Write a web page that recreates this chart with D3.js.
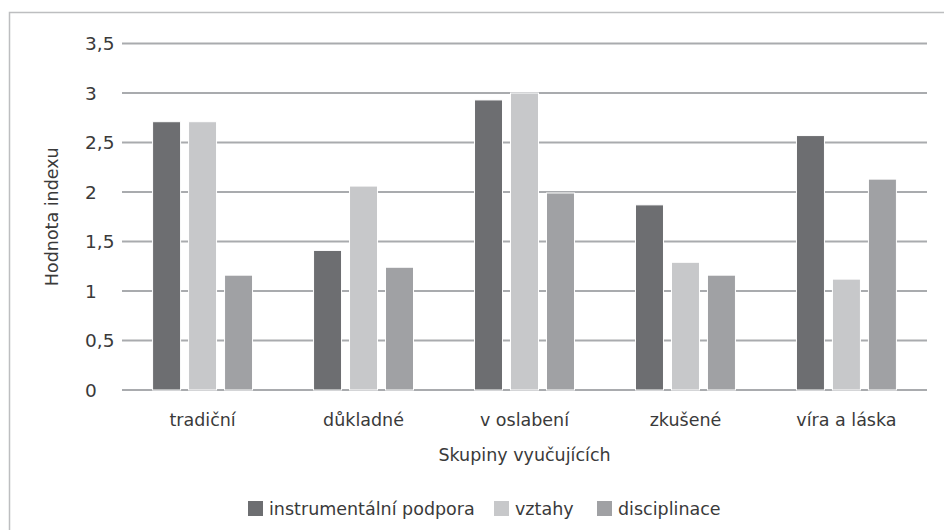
<!DOCTYPE html>
<html><head><meta charset="utf-8">
<script src="https://cdn.jsdelivr.net/npm/d3@7"></script>
<style>body{margin:0;background:#fff}svg{display:block}text{font-family:"DejaVu Sans",sans-serif;fill:#3a3a3a}</style>
</head><body><svg id="c" width="944" height="530"></svg>
<script>
const categories = ["tradiční","důkladné","v oslabení","zkušené","víra a láska"];
const seriesNames = ["instrumentální podpora","vztahy","disciplinace"];
const instrumentalni = [2.71,1.41,2.93,1.87,2.57];
const vztahy = [2.71,2.06,3.0,1.29,1.12];
const disciplinace = [1.16,1.24,1.99,1.16,2.13];
const yTicks = [0,0.5,1,1.5,2,2.5,3,3.5];
const colors = ["#6d6e71","#c7c8ca","#a0a1a4"];
const series = [instrumentalni, vztahy, disciplinace];

const svg = d3.select("#c");
const L=122,R=927,T=43.5,B=390;
const FS = 17.5;
svg.append("rect").attr("x",9.5).attr("y",12.5).attr("width",960).attr("height",560).attr("fill","none").attr("stroke","#bdbec0").attr("stroke-width",1.5);

const y = d3.scaleLinear().domain([0,3.5]).range([B,T]);
const x0 = d3.scaleBand().domain(categories).range([L,R]).paddingInner(0.379).paddingOuter(0.19);
const x1 = d3.scaleBand().domain(d3.range(3)).range([0,x0.bandwidth()]).paddingInner(0.222);

const fmt = v => String(v).replace(".",",");
const grid = svg.append("g");
yTicks.forEach(t=>{
  grid.append("line").attr("x1",L).attr("x2",R).attr("y1",y(t)).attr("y2",y(t)).attr("stroke","#a9abae").attr("stroke-width",2);
  svg.append("text").attr("x",85).attr("y",y(t)).attr("dy","0.36em").attr("font-size",FS+1).text(fmt(t));
});

const g = svg.append("g");
categories.forEach((c,i)=>{
  series.forEach((s,j)=>{
    g.append("rect").attr("x",x0(c)+x1(j)).attr("y",y(s[i])).attr("width",x1.bandwidth()).attr("height",y(0)-y(s[i]))
     .attr("fill",colors[j]).attr("stroke","#fff").attr("stroke-width",1);
  });
  svg.append("text").attr("x",x0(c)+x0.bandwidth()/2).attr("y",420).attr("dy","0.36em").attr("text-anchor","middle").attr("font-size",FS).text(c);
});

svg.append("text").attr("x",(L+R)/2).attr("y",455).attr("dy","0.36em").attr("text-anchor","middle").attr("font-size",FS).text("Skupiny vyučujících");
svg.append("text").attr("transform",`translate(52,${(T+B)/2}) rotate(-90)`).attr("dy","0.36em").attr("text-anchor","middle").attr("font-size",FS).text("Hodnota indexu");

const legX = [248,494,597];
seriesNames.forEach((n,j)=>{
  svg.append("rect").attr("x",legX[j]).attr("y",501).attr("width",15).attr("height",15).attr("fill",colors[j]);
  svg.append("text").attr("x",legX[j]+21).attr("y",508.5).attr("dy","0.36em").attr("font-size",FS).text(n);
});
</script></body></html>
